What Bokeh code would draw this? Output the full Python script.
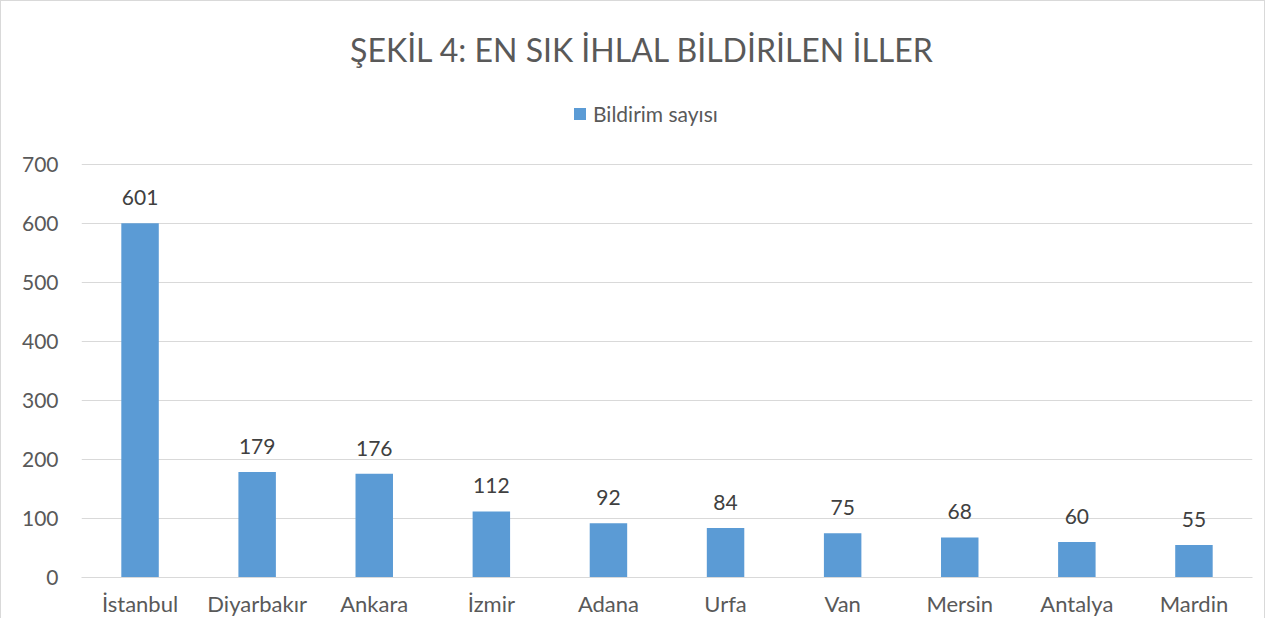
from bokeh.plotting import figure
from bokeh.models import ColumnDataSource, LabelSet, Label, Range1d
from bokeh.core.properties import value
from bokeh.embed import file_html
from bokeh.resources import INLINE

cities = ["İstanbul", "Diyarbakır", "Ankara", "İzmir", "Adana", "Urfa", "Van", "Mersin", "Antalya", "Mardin"]
counts = [601, 179, 176, 112, 92, 84, 75, 68, 60, 55]
y_ticks = [0, 100, 200, 300, 400, 500, 600, 700]
title_text = "ŞEKİL 4: EN SIK İHLAL BİLDİRİLEN İLLER"
series_name = "Bildirim sayısı"

FONT = "Lato"
TXT = "#595959"
BAR = "#5b9bd5"
GRID = "#d9d9d9"

# frame extended upward to hold title and legend; 0..700 spans 412 px
FRAME_H = 575
Y_END = 700 * FRAME_H / 412.0

src = ColumnDataSource(dict(city=cities, count=counts, lab=[str(c) for c in counts]))

p = figure(x_range=cities, y_range=Range1d(0, Y_END), width=1265, height=618,
           output_backend="svg", toolbar_location=None,
           min_border_left=80, min_border_right=14, min_border_top=0, min_border_bottom=36)
p.styles = {"border-left": "1px solid #d9d9d9", "border-right": "1px solid #d9d9d9",
            "border-top": "1px solid #d9d9d9"}
p.outline_line_color = None
p.background_fill_color = "white"
p.border_fill_color = "white"

r = p.vbar(x="city", top="count", width=0.32, source=src, fill_color=BAR, line_color=None,
           legend_label=series_name)

p.yaxis.ticker = y_ticks
p.ygrid.grid_line_color = GRID
p.ygrid.grid_line_width = 1
p.xgrid.grid_line_color = None
p.yaxis.axis_line_color = None
p.yaxis.major_tick_line_color = None
p.yaxis.minor_tick_line_color = None
p.yaxis.major_tick_out = 0
p.yaxis.major_label_standoff = 23
p.xaxis.axis_line_color = GRID
p.xaxis.major_tick_line_color = None
p.xaxis.minor_tick_line_color = None
p.xaxis.major_tick_out = 0
p.xaxis.major_label_standoff = 12
for ax in (p.xaxis, p.yaxis):
    ax.major_label_text_font = FONT
    ax.major_label_text_color = TXT
p.yaxis.major_label_text_font_size = "21px"
p.xaxis.major_label_text_font_size = "22px"

labels = LabelSet(x="city", y="count", text="lab", source=src, text_align="center",
                  text_baseline="bottom", y_offset=18, text_font=value(FONT),
                  text_font_size="21px", text_color="#404040")
p.add_layout(labels)

t = Label(x=4.79, y=896, text=title_text,
          text_align="center", text_baseline="middle", text_font=FONT,
          text_font_size="32px", text_color=TXT)
p.add_layout(t)

leg = p.legend[0]
leg.location = (491, 451)
leg.orientation = "horizontal"
leg.label_text_font = FONT
leg.label_text_font_size = "21px"
leg.label_text_color = TXT
leg.glyph_width = 15
leg.glyph_height = 15
leg.label_standoff = 6
leg.padding = 0
leg.margin = 0
leg.border_line_color = None
leg.background_fill_alpha = 0

open("out.html", "w").write(file_html(p, INLINE))
